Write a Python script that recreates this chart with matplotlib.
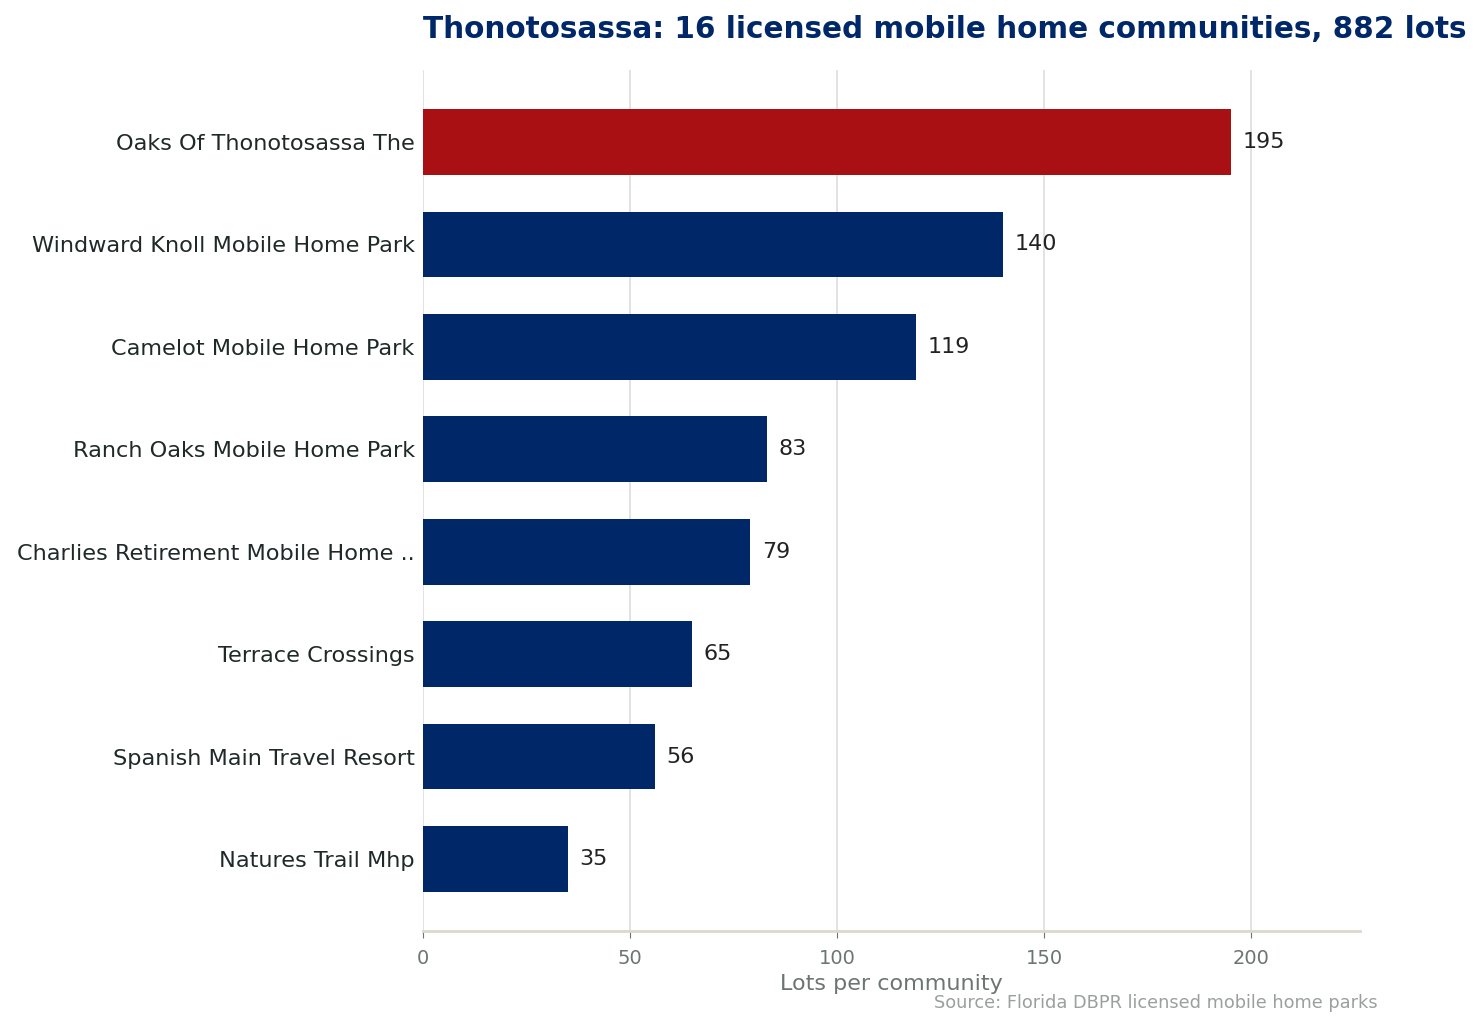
import matplotlib
matplotlib.use("Agg")
import matplotlib.pyplot as plt

# data, top to bottom as shown
names = [
    "Oaks Of Thonotosassa The",
    "Windward Knoll Mobile Home Park",
    "Camelot Mobile Home Park",
    "Ranch Oaks Mobile Home Park",
    "Charlies Retirement Mobile Home ..",
    "Terrace Crossings",
    "Spanish Main Travel Resort",
    "Natures Trail Mhp",
]
lots = [195, 140, 119, 83, 79, 65, 56, 35]
highlight = "Oaks Of Thonotosassa The"

NAVY = "#002868"
RED = "#a81014"

fig = plt.figure(figsize=(14.83, 10.3), dpi=100)
ax = fig.add_axes([423 / 1483, 1 - 931 / 1030, (1360 - 423) / 1483, (931 - 70) / 1030])

ypos = list(range(len(names)))[::-1]
colors = [RED if n == highlight else NAVY for n in names]
ax.barh(ypos, lots, height=0.64, color=colors, zorder=3)

for y, v in zip(ypos, lots):
    ax.text(v + 2.8, y, f"{v}", va="center", ha="left", fontsize=16, color="#222222")

ax.set_xlim(0, 226.2)
ax.set_yticks(ypos)
ax.set_yticklabels(names, fontsize=16.1, color="#1f2a28")
ax.tick_params(axis="y", length=0, pad=6)
ax.tick_params(axis="x", colors="#6b7572", labelsize=14, length=5, pad=8)
ax.set_xticks([0, 50, 100, 150, 200])

ax.grid(axis="x", color="#dddddd", linewidth=1.2, zorder=0)
ax.set_axisbelow(True)
for s in ["top", "right", "left"]:
    ax.spines[s].set_visible(False)
ax.spines["bottom"].set_color("#dcd8cc")
ax.spines["bottom"].set_linewidth(2)

ax.set_xlabel("Lots per community", fontsize=16, color="#6b7572", labelpad=4)

fig.text(423 / 1483, 1 - 30 / 1030, "Thonotosassa: 16 licensed mobile home communities, 882 lots",
         fontsize=21.25, fontweight="bold", color=NAVY, ha="left", va="center")
fig.text(1378 / 1483, 1 - 1003 / 1030, "Source: Florida DBPR licensed mobile home parks",
         fontsize=12.8, color="#9aa09d", ha="right", va="center")

fig.savefig("out.png", dpi=100)
